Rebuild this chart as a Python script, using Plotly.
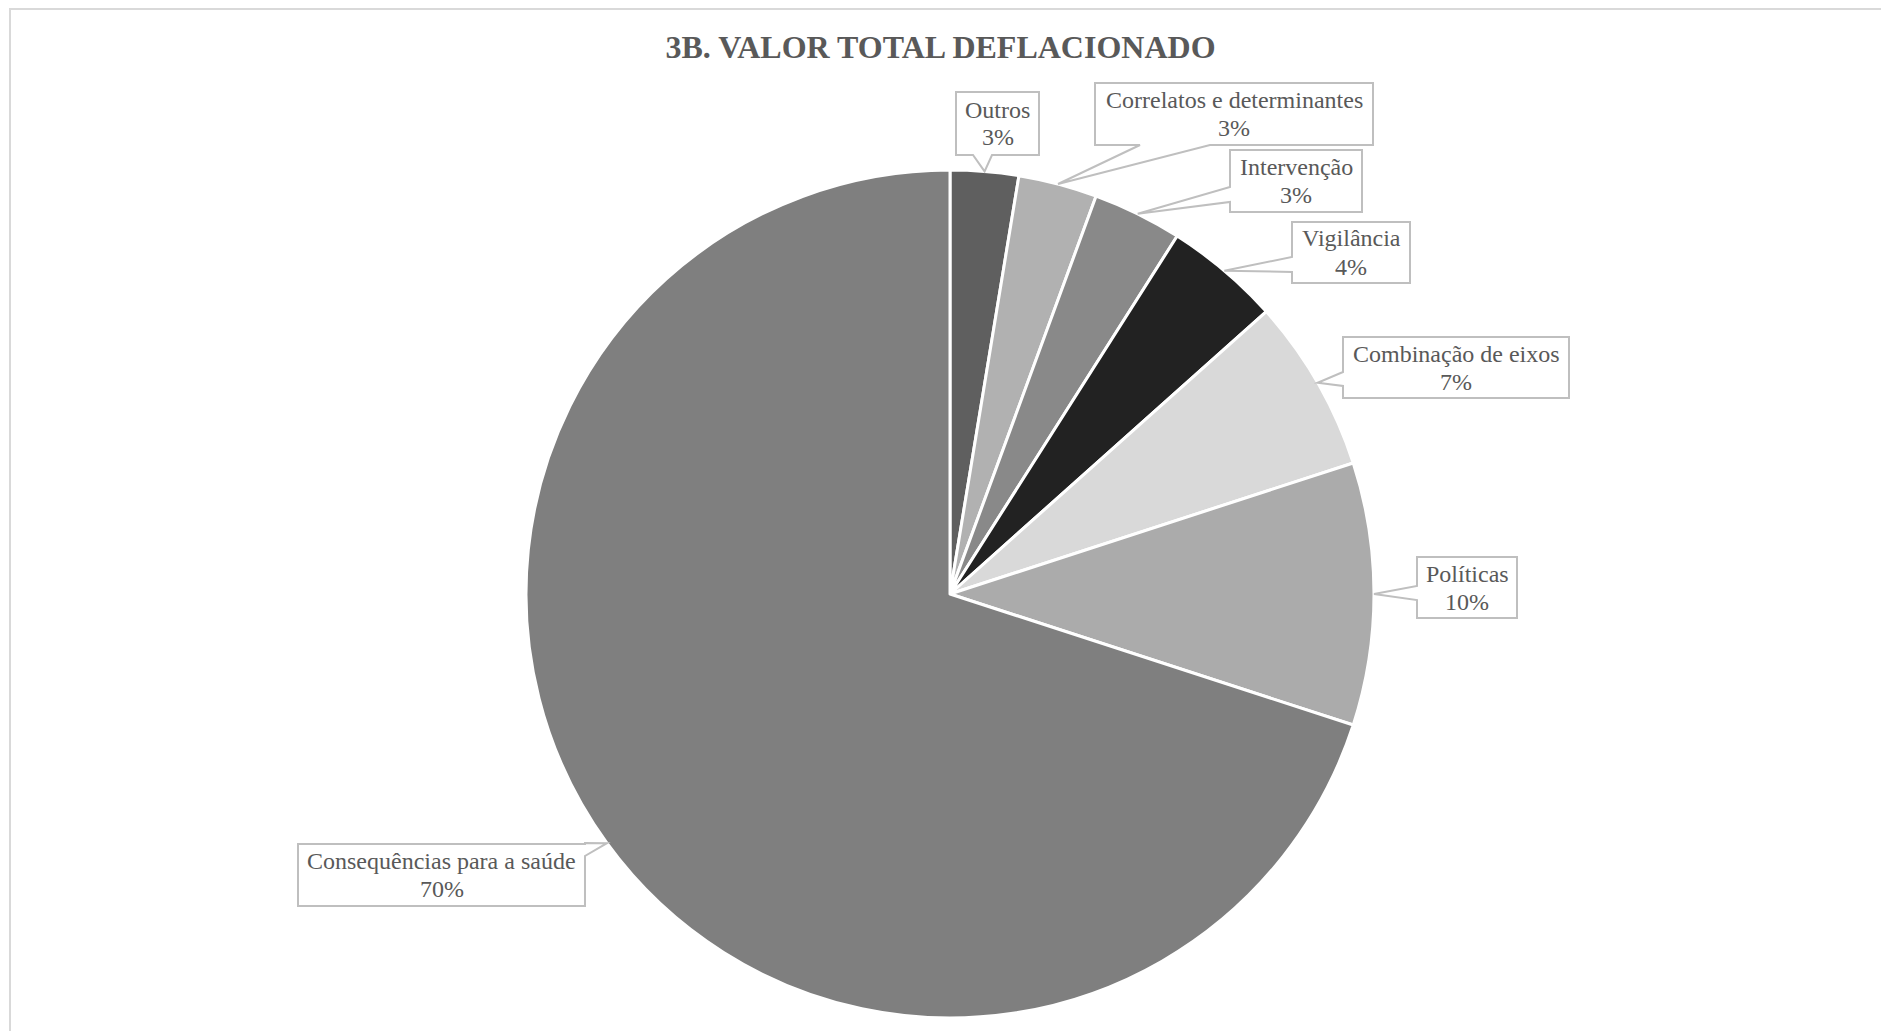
import plotly.graph_objects as go
import math

# Participação de cada eixo no valor total deflacionado (%)
categorias = [
    "Outros",
    "Correlatos e determinantes",
    "Intervenção",
    "Vigilância",
    "Combinação de eixos",
    "Políticas",
    "Consequências para a saúde",
]
valores = [2.6, 3.0, 3.4, 4.4, 6.6, 10.0, 70.0]
cores = ["#5f5f5f", "#b1b1b1", "#898989", "#222222", "#d9d9d9", "#ababab", "#7f7f7f"]

W, H = 1881, 1031
CX, CY, R = 950, 594, 424  # pie centre and radius in pixels

# Callout boxes in pixels: (x0, y0, x1, y1, side of pointer, base start, base end)
caixas = [
    (956, 92, 1039, 155, "bottom", 973, 992),
    (1095, 83, 1373, 145, "bottom", 1140, 1210),
    (1230, 150, 1362, 212, "left", 187, 202),
    (1292, 222, 1410, 283, "left", 257, 272),
    (1343, 337, 1569, 398, "left", 372, 386),
    (1417, 557, 1517, 618, "left", 586, 600),
    (298, 844, 585, 906, "right", 843, 856),
]

FONTE_ROTULO = dict(family="Liberation Serif", size=24, color="#595959")


def px(x):
    return x / W


def py(y):
    return 1 - y / H


fig = go.Figure(
    go.Pie(
        labels=categorias,
        values=valores,
        sort=False,
        direction="clockwise",
        rotation=0,
        marker=dict(colors=cores, line=dict(color="white", width=3)),
        textinfo="none",
        hoverinfo="label+percent",
        domain=dict(x=[px(CX - R), px(CX + R)], y=[py(CY + R), py(CY - R)]),
        showlegend=False,
    )
)

total = sum(valores)
shapes = []
annotations = []
acum = 0.0
for cat, v, (x0, y0, x1, y1, lado, b0, b1) in zip(categorias, valores, caixas):
    meio = (acum + v / 2) / total * 2 * math.pi
    acum += v
    tx = CX + R * math.sin(meio)
    ty = CY - R * math.cos(meio)

    # box outline with a wedge pointing at the slice
    if lado == "bottom":
        pts = [(x0, y0), (x1, y0), (x1, y1), (b1, y1), (tx, ty), (b0, y1), (x0, y1)]
    elif lado == "left":
        pts = [(x0, y0), (x1, y0), (x1, y1), (x0, y1), (x0, b1), (tx, ty), (x0, b0)]
    else:  # right
        pts = [(x0, y0), (x1, y0), (x1, b0), (tx, ty), (x1, b1), (x1, y1), (x0, y1)]
    path = "M " + " L ".join(f"{px(a):.5f},{py(b):.5f}" for a, b in pts) + " Z"
    shapes.append(
        dict(type="path", xref="paper", yref="paper", path=path,
             line=dict(color="#bfbfbf", width=2), fillcolor="white", layer="above")
    )
    pct = round(v / total * 100)
    xc, yc = (x0 + x1) / 2, (y0 + y1) / 2
    for texto, dy in ((cat, -14), (f"{pct}%", 14)):
        annotations.append(
            dict(
                x=px(xc), y=py(yc + dy), xref="paper", yref="paper",
                text=texto, showarrow=False, xanchor="center", yanchor="middle",
                font=FONTE_ROTULO,
            )
        )

# outer chart frame
shapes.insert(0, dict(type="rect", xref="paper", yref="paper",
                      x0=px(10), y0=py(9), x1=px(1895), y1=py(1045),
                      line=dict(color="#d9d9d9", width=2), fillcolor="rgba(0,0,0,0)",
                      layer="below"))

fig.update_layout(
    width=W,
    height=H,
    margin=dict(l=0, r=0, t=0, b=0),
    paper_bgcolor="white",
    plot_bgcolor="white",
    title=dict(
        text="<b>3B. VALOR TOTAL DEFLACIONADO</b>",
        x=0.5, xanchor="center", xref="paper",
        y=py(47), yanchor="middle", yref="container",
        font=dict(family="Liberation Serif", size=32, color="#595959"),
    ),
    shapes=shapes,
    annotations=annotations,
)

fig.write_html("out.html")
